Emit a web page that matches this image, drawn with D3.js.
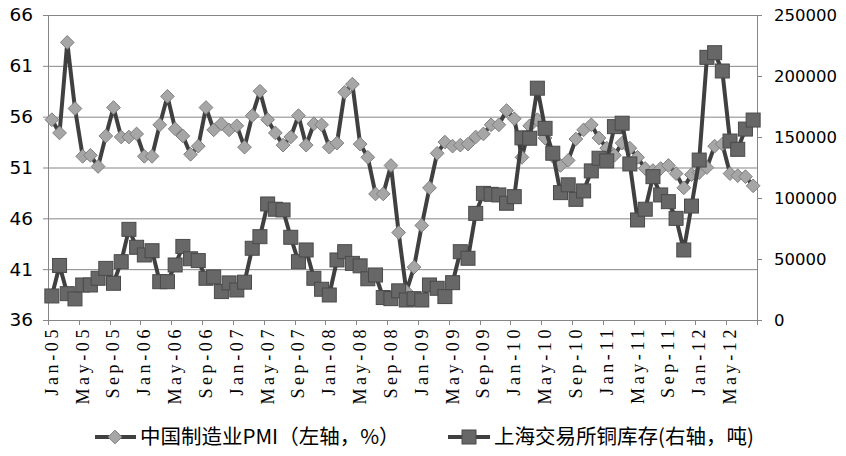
<!DOCTYPE html>
<html>
<head>
<meta charset="utf-8">
<script src="https://cdn.jsdelivr.net/npm/d3@7"></script>
<style>
  body { margin: 0; background: #fff; }
  svg { display: block; }
</style>
</head>
<body>
<div id="chart"></div>
<script>
// months Jan-05 .. Aug-12
var months = d3.timeMonths(new Date(2005, 0, 1), new Date(2012, 8, 1)).map(d3.timeFormat("%b-%y"));

// China manufacturing PMI (left axis, %)
var pmi = [
  55.7, 54.4, 63.3, 56.8, 52.1, 52.2, 51.1, 54.1, 56.9, 54.0, 54.0, 54.3,
  52.1, 52.1, 55.2, 58.0, 54.8, 54.1, 52.3, 53.1, 56.9, 54.7, 55.3, 54.7,
  55.1, 53.0, 56.1, 58.5, 55.7, 54.4, 53.2, 54.0, 56.1, 53.2, 55.3, 55.2,
  53.0, 53.4, 58.4, 59.2, 53.3, 52.0, 48.4, 48.4, 51.2, 44.6, 38.8, 41.2,
  45.3, 49.0, 52.4, 53.5, 53.1, 53.2, 53.3, 54.0, 54.3, 55.2, 55.2, 56.6,
  55.8, 52.0, 55.1, 55.7, 53.9, 52.1, 51.2, 51.7, 53.8, 54.7, 55.2, 53.9,
  52.9, 52.2, 53.4, 52.9, 52.0, 50.9, 50.7, 50.9, 51.2, 50.4, 49.0, 50.3,
  50.5, 51.0, 53.1, 53.3, 50.4, 50.2, 50.1, 49.2
];

// SHFE copper stocks (right axis, tonnes)
var copper = [
  19700, 44700, 21600, 17300, 28700, 28700, 34200, 42300, 30100, 47800, 74300, 59600,
  53300, 56800, 31400, 31400, 45100, 60300, 50200, 48700, 34200, 35300, 23300, 30400,
  24600, 31000, 58800, 68300, 95100, 90800, 90200, 67800, 47800, 57400, 34200, 25200,
  20500, 49200, 56000, 46400, 44400, 33800, 36900, 18400, 17500, 23900, 16400, 17500,
  16400, 28700, 26000, 19200, 30600, 56000, 50600, 87400, 103800, 103000, 102500, 95700,
  101100, 149300, 149000, 190000, 157100, 136700, 104400, 110800, 98900, 105800, 122200, 132600,
  130400, 158500, 161300, 127900, 82000, 90800, 117500, 102500, 97000, 83300, 57400, 93400,
  131100, 215300, 219100, 204100, 146700, 139900, 156500, 163900
];

var leftTicks = [36, 41, 46, 51, 56, 61, 66];
var rightTicks = [0, 50000, 100000, 150000, 200000, 250000];
var legendLabels = ["中国制造业PMI（左轴，%）", "上海交易所铜库存(右轴，吨)"];

var W = 846, H = 456;
var margin = {top: 15, right: 89, bottom: 136, left: 48};
var width = W - margin.left - margin.right,
    height = H - margin.top - margin.bottom;

var gridColor = "#868686", lineColor = "#404040";

var svg = d3.select("#chart").append("svg")
  .attr("width", W)
  .attr("height", H);

var g = svg.append("g")
  .attr("transform", "translate(" + margin.left + "," + margin.top + ")");

// scales
var x = d3.scaleBand().domain(months).range([0, width]).padding(0);
var yL = d3.scaleLinear().domain([36, 66]).range([height, 0]);
var yR = d3.scaleLinear().domain([0, 250000]).range([height, 0]);
var cx = function(i) { return x(months[i]) + x.bandwidth() / 2; };

// gridlines
g.selectAll(".grid")
  .data(leftTicks)
  .enter().append("line")
  .attr("x1", 0).attr("x2", width)
  .attr("y1", function(d) { return yL(d) + 0.5; })
  .attr("y2", function(d) { return yL(d) + 0.5; })
  .attr("stroke", gridColor).attr("stroke-width", 1);

// left axis
var leftAxis = g.append("g")
  .call(d3.axisLeft(yL).tickValues(leftTicks).tickSize(5).tickPadding(10));
leftAxis.selectAll("text")
  .style("font-family", "'DejaVu Sans', Verdana, sans-serif")
  .style("font-size", "18.5px")
  .attr("fill", "#000");

// right axis
var rightAxis = g.append("g")
  .attr("transform", "translate(" + width + ",0)")
  .call(d3.axisRight(yR).tickValues(rightTicks).tickSize(5).tickPadding(12).tickFormat(d3.format("d")));
rightAxis.selectAll("text")
  .style("font-family", "'DejaVu Sans', Verdana, sans-serif")
  .style("font-size", "16.5px")
  .attr("fill", "#000");

// bottom axis: ticks between every 4 months
var tickMonths = months.filter(function(d, i) { return i % 4 === 0; });
var bottomAxis = g.append("g")
  .attr("transform", "translate(0," + height + ")")
  .call(d3.axisBottom(x).tickValues(tickMonths).tickSize(0).tickPadding(8));
bottomAxis.select(".domain").remove();
bottomAxis.selectAll("text")
  .style("font-family", "'Liberation Serif', 'DejaVu Serif', serif")
  .style("font-size", "18px")
  .style("letter-spacing", "3.6px")
  .attr("fill", "#000")
  .attr("text-anchor", "end")
  .attr("transform", "rotate(-90)")
  .attr("x", -6)
  .attr("y", 0)
  .attr("dy", "0.33em");

var boundaries = d3.range(0, months.length + 1, 4);
g.append("g").selectAll("line")
  .data(boundaries)
  .enter().append("line")
  .attr("x1", function(d) { return Math.round(d * x.step()) + 0.5; })
  .attr("x2", function(d) { return Math.round(d * x.step()) + 0.5; })
  .attr("y1", height).attr("y2", height + 5)
  .attr("stroke", gridColor);
g.append("line")
  .attr("x1", 0).attr("x2", width)
  .attr("y1", height + 0.5).attr("y2", height + 0.5)
  .attr("stroke", gridColor);

[leftAxis, rightAxis].forEach(function(a) {
  a.selectAll(".domain, line").attr("stroke", gridColor);
});

// PMI line + diamonds
var pmiLine = d3.line()
  .x(function(d, i) { return cx(i); })
  .y(function(d) { return yL(d); });

g.append("path")
  .datum(pmi)
  .attr("d", pmiLine)
  .attr("fill", "none")
  .attr("stroke", lineColor)
  .attr("stroke-width", 4)
  .attr("stroke-linejoin", "round");

var diamond = d3.symbol().type(d3.symbolDiamond2).size(120);
g.selectAll(".pmi")
  .data(pmi)
  .enter().append("path")
  .attr("d", diamond)
  .attr("transform", function(d, i) { return "translate(" + cx(i) + "," + yL(d) + ")"; })
  .attr("fill", "#a6a6a6")
  .attr("stroke", "#7f7f7f")
  .attr("stroke-width", 1);

// copper line + squares
var copperLine = d3.line()
  .x(function(d, i) { return cx(i); })
  .y(function(d) { return yR(d); });

g.append("path")
  .datum(copper)
  .attr("d", copperLine)
  .attr("fill", "none")
  .attr("stroke", lineColor)
  .attr("stroke-width", 4)
  .attr("stroke-linejoin", "round");

g.selectAll(".cu")
  .data(copper)
  .enter().append("rect")
  .attr("x", function(d, i) { return cx(i) - 7; })
  .attr("y", function(d) { return yR(d) - 7; })
  .attr("width", 14).attr("height", 14)
  .attr("fill", "#676767")
  .attr("stroke", "#4a4a4a")
  .attr("stroke-width", 1);

// legend
var ly = 437;
var leg = svg.append("g");
leg.append("line").attr("x1", 95).attr("x2", 136).attr("y1", ly).attr("y2", ly)
  .attr("stroke", lineColor).attr("stroke-width", 4);
leg.append("path").attr("d", diamond)
  .attr("transform", "translate(115," + ly + ")")
  .attr("fill", "#a6a6a6").attr("stroke", "#7f7f7f");
leg.append("line").attr("x1", 448).attr("x2", 490).attr("y1", ly).attr("y2", ly)
  .attr("stroke", lineColor).attr("stroke-width", 4);
leg.append("rect").attr("x", 462).attr("y", ly - 7).attr("width", 14).attr("height", 14)
  .attr("fill", "#676767").attr("stroke", "#4a4a4a");

leg.selectAll("text")
  .data(legendLabels)
  .enter().append("text")
  .attr("x", function(d, i) { return i === 0 ? 140 : 494; })
  .attr("y", ly)
  .attr("dy", "0.36em")
  .style("font-family", "'Noto Sans CJK SC', sans-serif")
  .style("font-size", "20.5px")
  .attr("fill", "#000")
  .text(function(d) { return d; });
</script>
</body>
</html>
